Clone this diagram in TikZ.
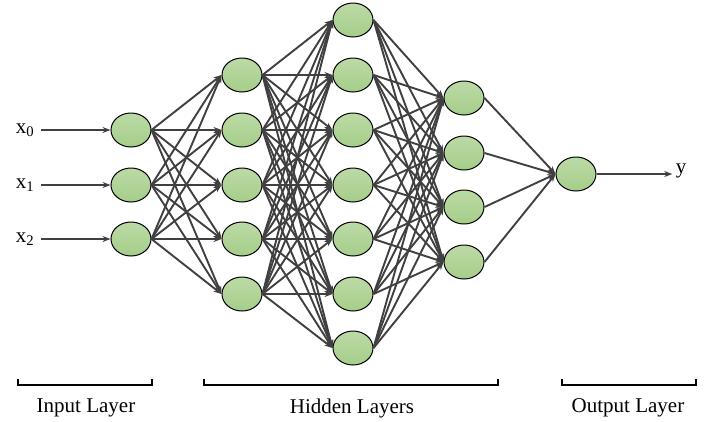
\documentclass[tikz,border=0pt]{standalone}
\usepackage{fontspec}
\setmainfont{Liberation Serif}
\usetikzlibrary{arrows.meta, positioning, shapes.geometric}
\definecolor{neurongreen}{RGB}{165,206,137}
\definecolor{edgegray}{RGB}{64,64,64}

\begin{document}
\begin{tikzpicture}[x=1pt, y=-1pt, font=\fontsize{21}{24}\selectfont,
  neuron/.style={draw, ellipse, line width=1pt, minimum width=40pt, minimum height=34pt, inner sep=0pt, top color=neurongreen!75!white, bottom color=neurongreen},
  link/.style={-{Stealth[length=8pt,width=6pt]}, line width=1.9pt, color=edgegray},
  bracket/.style={line width=2pt}]
  \useasboundingbox (0,0) rectangle (711,421);

  % input layer
  \foreach \i/\y in {0/130,1/185,2/239}
    \node[neuron] (in\i) at (131,\y) {};

  % hidden layers
  \foreach \i/\y in {1/75,2/130,3/185,4/239,5/294}
    \node[neuron] (ha\i) at (242,\y) {};
  \foreach \i/\y in {1/20,2/75,3/130,4/185,5/239,6/294,7/348}
    \node[neuron] (hb\i) at (353,\y) {};
  \foreach \i/\y in {1/98,2/153,3/207,4/262}
    \node[neuron] (hc\i) at (464,\y) {};

  % output layer
  \node[neuron] (out) at (576,174) {};

  % connections
  \foreach \a in {0,1,2}
    \foreach \b in {1,...,5}
      \draw[link] (in\a.east) -- (ha\b.west);
  \foreach \a in {1,...,5}
    \foreach \b in {1,...,7}
      \draw[link] (ha\a.east) -- (hb\b.west);
  \foreach \a in {1,...,7}
    \foreach \b in {1,...,4}
      \draw[link] (hb\a.east) -- (hc\b.west);
  \foreach \a in {1,...,4}
    \draw[link] (hc\a.east) -- (out.west);

  % inputs and output
  \foreach \i in {0,1,2} {
    \node[inner sep=3pt] (x\i) at (25,0 |- in\i) {x\textsubscript{\i}};
    \draw[link] (x\i.east |- in\i.west) ++(4,0) -- (in\i.west);
  }
  \node (y) at (681,171) {y};
  \draw[link] (out.east) -- (y.west |- out.east);

  % brackets
  \draw[bracket] (18,379) -- (18,385) -- (152,385) -- (152,379);
  \draw[bracket] (204,379) -- (204,385) -- (498,385) -- (498,379);
  \draw[bracket] (562,379) -- (562,385) -- (696,385) -- (696,379);
  \node (lin) at (86,408) {Input Layer};
  \node (lhid) at (352,408) {Hidden Layers};
  \node (lout) at (628,408) {Output Layer};
\end{tikzpicture}
\end{document}
